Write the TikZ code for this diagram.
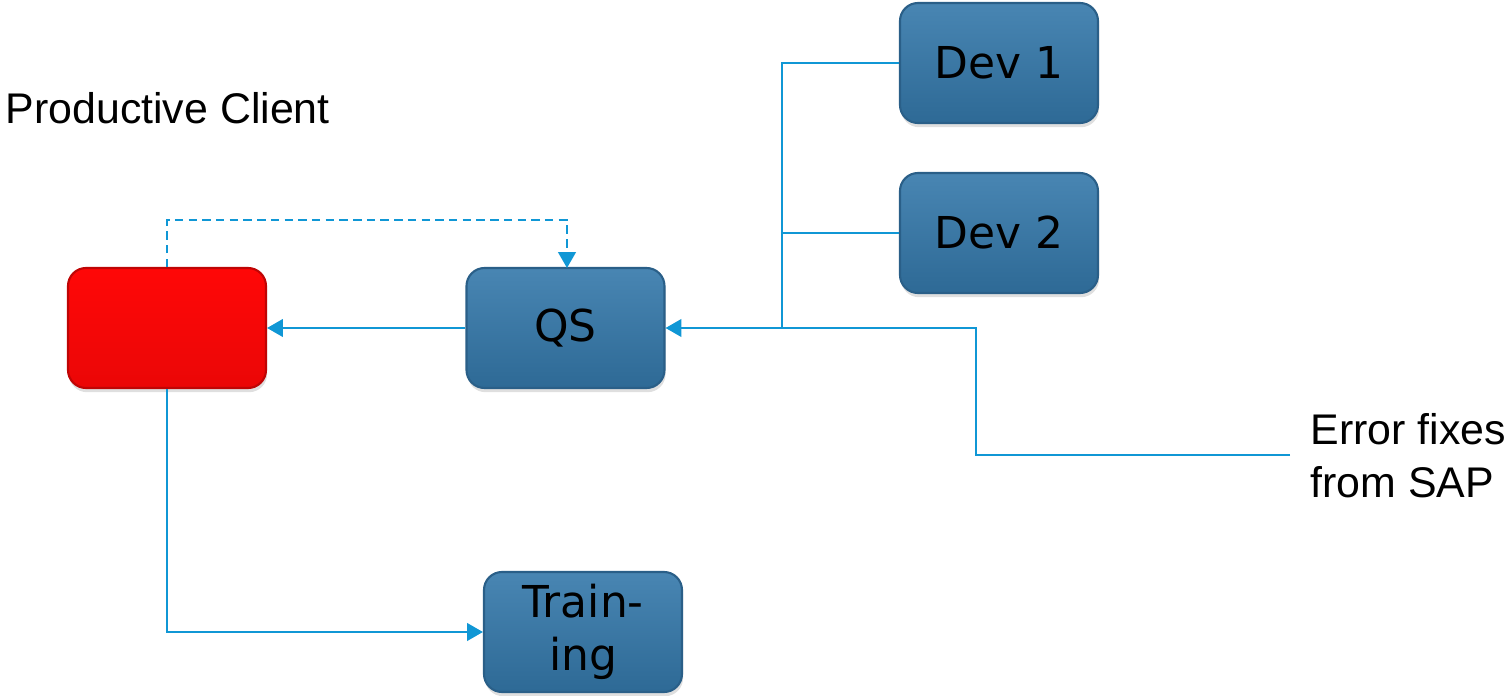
\documentclass[tikz,border=0pt]{standalone}
\usepackage{fontspec}
\setmainfont{Liberation Sans}
\newfontfamily\boxfont{DejaVu Sans}
\usetikzlibrary{arrows.meta,shadows}

\definecolor{sysblue}{HTML}{3478AA}
\definecolor{sysblueedge}{HTML}{2A5F88}
\definecolor{linkblue}{HTML}{1097D5}
\definecolor{prodred}{HTML}{FF0707}

\tikzset{
    sysbox/.style={rounded corners=0.18cm, minimum width=1.98cm, minimum height=1.2cm,
        top color=sysblue!90!white, bottom color=sysblue!88!black, draw=sysblueedge,
        line width=0.6pt, font=\boxfont\fontsize{12.5}{15}\selectfont, align=center,
        inner sep=0pt, drop shadow={opacity=0.25, shadow xshift=0.3pt, shadow yshift=-1.2pt}},
    prodbox/.style={sysbox, top color=prodred, bottom color=prodred!92!black, draw=prodred!75!black},
    link/.style={draw=linkblue, line width=0.6pt},
    linkarrow/.style={link, -{Triangle[width=5pt, length=4.5pt]}}
}

\begin{document}
\begin{tikzpicture}
        \useasboundingbox (0, 0) rectangle (15.06, 6.95);

        \node[prodbox] (prod) at (1.67, 3.67) {};
        \node[sysbox] (qs) at (5.655, 3.67) {QS};
        \node[sysbox] (dev1) at (9.99, 6.32) {Dev 1};
        \node[sysbox] (dev2) at (9.99, 4.62) {Dev 2};
        \node[sysbox] (train) at (5.83, 0.63) {Train-\\ing};

        \node[anchor=west, inner sep=0pt, font=\fontsize{12.2}{15}\selectfont] (prodlabel) at (0.05, 5.87) {Productive Client};
        \node[anchor=west, align=left, font=\fontsize{12.2}{15}\selectfont, inner sep=0pt] (sapfix) at (13.1, 2.39) {Error fixes\\from SAP};

        \coordinate (sapend) at (12.9, 2.40);
        \coordinate (devjoin) at (7.82, 3.67);

        \draw[linkarrow] (qs) -- (prod);
        \draw[linkarrow, dash pattern=on 2.4pt off 1.5pt] (prod.north) |- (5.67, 4.75) -- (5.67, 4.27);
        \draw[link] (dev1.west) -| (devjoin);
        \draw[link] (dev2.west) -- (devjoin |- dev2.west);
        \draw[linkarrow] (sapend) -| (9.76, 3.67) -- (qs.east);
        \draw[linkarrow] (prod.south) |- (train.west);

    \end{tikzpicture}
\end{document}
